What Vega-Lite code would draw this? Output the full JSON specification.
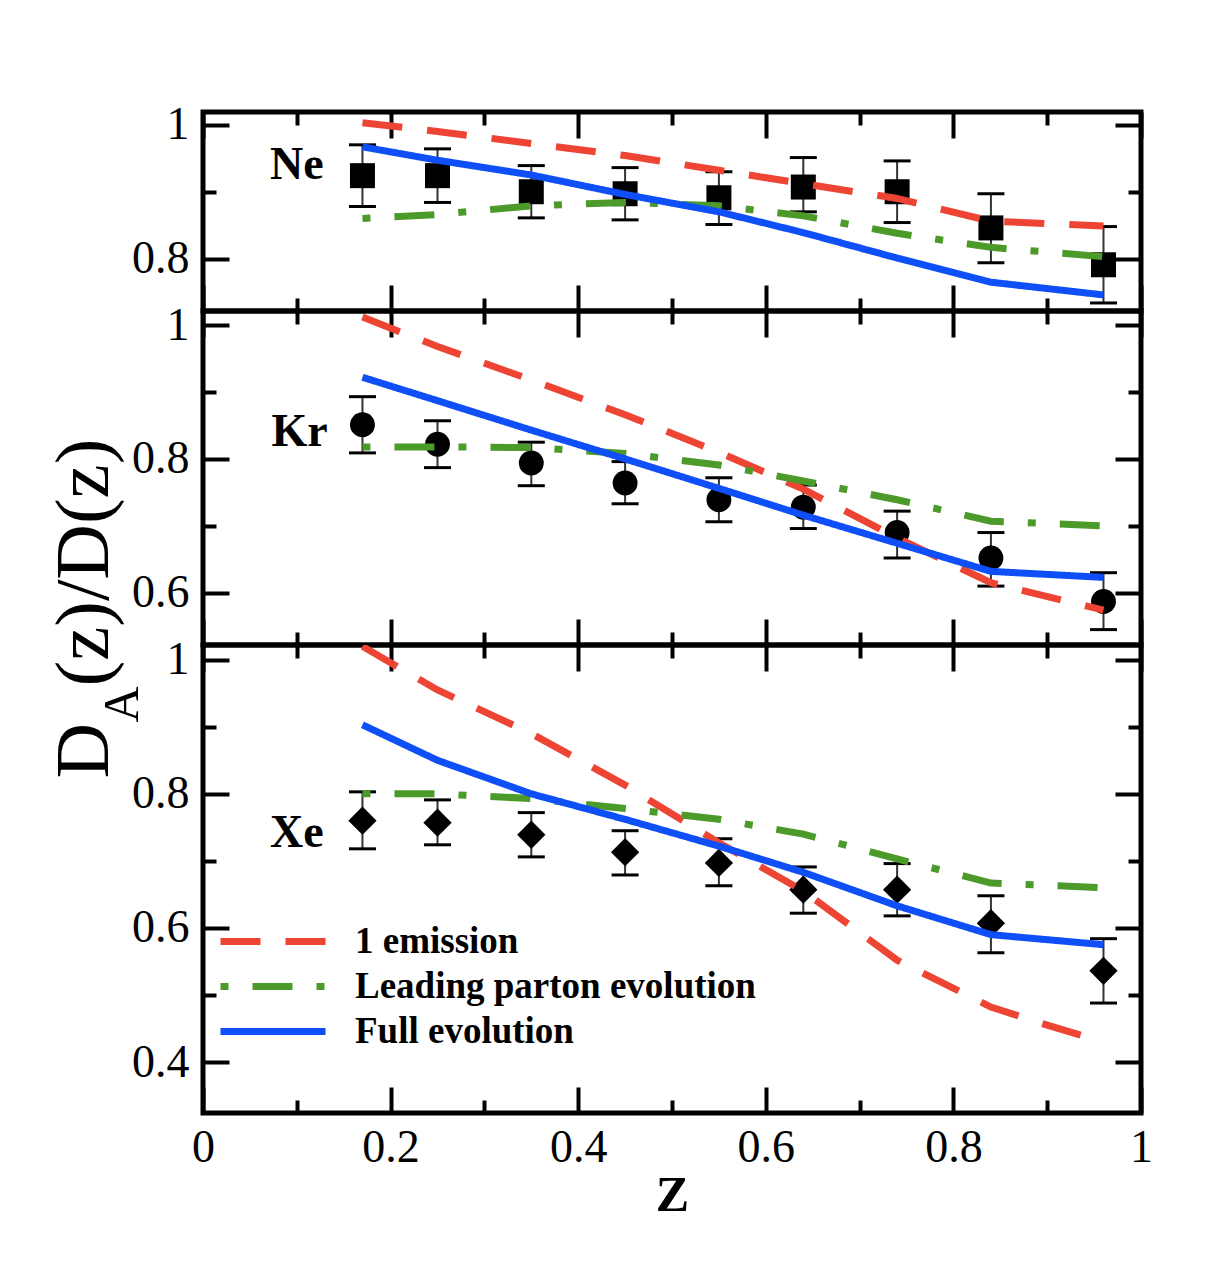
{
  "$schema": "https://vega.github.io/schema/vega-lite/v6.json",
  "background": "white",
  "padding": {"left": 42, "top": 99, "right": 10, "bottom": 10},
  "config": {
    "view": {"stroke": "black", "strokeWidth": 5},
    "font": "Liberation Serif",
    "axis": {
      "grid": false, "domain": false, "tickColor": "black", "tickWidth": 4,
      "labelFont": "Liberation Serif", "labelFontSize": 46, "labelColor": "black",
      "labelFlush": false, "labelOverlap": false, "labelBound": false,
      "titleFont": "Liberation Serif", "titleColor": "black", "titleFontWeight": "normal"
    }
  },
  "datasets": {
    "points": [
      {"panel": "Ne", "z": 0.17, "r": 0.924, "lo": 0.878, "hi": 0.970},
      {"panel": "Ne", "z": 0.25, "r": 0.924, "lo": 0.884, "hi": 0.964},
      {"panel": "Ne", "z": 0.35, "r": 0.900, "lo": 0.861, "hi": 0.939},
      {"panel": "Ne", "z": 0.45, "r": 0.897, "lo": 0.858, "hi": 0.936},
      {"panel": "Ne", "z": 0.55, "r": 0.891, "lo": 0.851, "hi": 0.930},
      {"panel": "Ne", "z": 0.64, "r": 0.907, "lo": 0.870, "hi": 0.951},
      {"panel": "Ne", "z": 0.74, "r": 0.900, "lo": 0.854, "hi": 0.946},
      {"panel": "Ne", "z": 0.84, "r": 0.846, "lo": 0.794, "hi": 0.897},
      {"panel": "Ne", "z": 0.96, "r": 0.791, "lo": 0.734, "hi": 0.848},
      {"panel": "Kr", "z": 0.17, "r": 0.851, "lo": 0.809, "hi": 0.893},
      {"panel": "Kr", "z": 0.25, "r": 0.822, "lo": 0.787, "hi": 0.857},
      {"panel": "Kr", "z": 0.35, "r": 0.794, "lo": 0.760, "hi": 0.825},
      {"panel": "Kr", "z": 0.45, "r": 0.764, "lo": 0.733, "hi": 0.796},
      {"panel": "Kr", "z": 0.55, "r": 0.739, "lo": 0.706, "hi": 0.772},
      {"panel": "Kr", "z": 0.64, "r": 0.728, "lo": 0.696, "hi": 0.761},
      {"panel": "Kr", "z": 0.74, "r": 0.690, "lo": 0.652, "hi": 0.722},
      {"panel": "Kr", "z": 0.84, "r": 0.652, "lo": 0.610, "hi": 0.690},
      {"panel": "Kr", "z": 0.96, "r": 0.587, "lo": 0.545, "hi": 0.630},
      {"panel": "Xe", "z": 0.17, "r": 0.760, "lo": 0.718, "hi": 0.803},
      {"panel": "Xe", "z": 0.25, "r": 0.757, "lo": 0.724, "hi": 0.791},
      {"panel": "Xe", "z": 0.35, "r": 0.739, "lo": 0.706, "hi": 0.772},
      {"panel": "Xe", "z": 0.45, "r": 0.713, "lo": 0.679, "hi": 0.745},
      {"panel": "Xe", "z": 0.55, "r": 0.697, "lo": 0.663, "hi": 0.733},
      {"panel": "Xe", "z": 0.64, "r": 0.657, "lo": 0.622, "hi": 0.691},
      {"panel": "Xe", "z": 0.74, "r": 0.657, "lo": 0.618, "hi": 0.696},
      {"panel": "Xe", "z": 0.84, "r": 0.607, "lo": 0.563, "hi": 0.648},
      {"panel": "Xe", "z": 0.96, "r": 0.536, "lo": 0.488, "hi": 0.584}
    ],
    "curves": [
      {"panel": "Ne", "series": "1 emission", "z": 0.17, "r": 1.003},
      {"panel": "Ne", "series": "1 emission", "z": 0.25, "r": 0.990},
      {"panel": "Ne", "series": "1 emission", "z": 0.35, "r": 0.972},
      {"panel": "Ne", "series": "1 emission", "z": 0.45, "r": 0.954},
      {"panel": "Ne", "series": "1 emission", "z": 0.55, "r": 0.932},
      {"panel": "Ne", "series": "1 emission", "z": 0.64, "r": 0.912},
      {"panel": "Ne", "series": "1 emission", "z": 0.74, "r": 0.890},
      {"panel": "Ne", "series": "1 emission", "z": 0.84, "r": 0.856},
      {"panel": "Ne", "series": "1 emission", "z": 0.96, "r": 0.849},
      {"panel": "Ne", "series": "Leading parton evolution", "z": 0.17, "r": 0.860},
      {"panel": "Ne", "series": "Leading parton evolution", "z": 0.25, "r": 0.866},
      {"panel": "Ne", "series": "Leading parton evolution", "z": 0.35, "r": 0.879},
      {"panel": "Ne", "series": "Leading parton evolution", "z": 0.45, "r": 0.884},
      {"panel": "Ne", "series": "Leading parton evolution", "z": 0.55, "r": 0.879},
      {"panel": "Ne", "series": "Leading parton evolution", "z": 0.64, "r": 0.864},
      {"panel": "Ne", "series": "Leading parton evolution", "z": 0.74, "r": 0.838},
      {"panel": "Ne", "series": "Leading parton evolution", "z": 0.84, "r": 0.817},
      {"panel": "Ne", "series": "Leading parton evolution", "z": 0.96, "r": 0.803},
      {"panel": "Ne", "series": "Full evolution", "z": 0.17, "r": 0.967},
      {"panel": "Ne", "series": "Full evolution", "z": 0.25, "r": 0.947},
      {"panel": "Ne", "series": "Full evolution", "z": 0.35, "r": 0.925},
      {"panel": "Ne", "series": "Full evolution", "z": 0.45, "r": 0.896},
      {"panel": "Ne", "series": "Full evolution", "z": 0.55, "r": 0.870},
      {"panel": "Ne", "series": "Full evolution", "z": 0.64, "r": 0.839},
      {"panel": "Ne", "series": "Full evolution", "z": 0.74, "r": 0.801},
      {"panel": "Ne", "series": "Full evolution", "z": 0.84, "r": 0.765},
      {"panel": "Ne", "series": "Full evolution", "z": 0.96, "r": 0.746},
      {"panel": "Kr", "series": "1 emission", "z": 0.17, "r": 1.012},
      {"panel": "Kr", "series": "1 emission", "z": 0.25, "r": 0.968},
      {"panel": "Kr", "series": "1 emission", "z": 0.35, "r": 0.918},
      {"panel": "Kr", "series": "1 emission", "z": 0.45, "r": 0.866},
      {"panel": "Kr", "series": "1 emission", "z": 0.55, "r": 0.810},
      {"panel": "Kr", "series": "1 emission", "z": 0.64, "r": 0.755},
      {"panel": "Kr", "series": "1 emission", "z": 0.74, "r": 0.682},
      {"panel": "Kr", "series": "1 emission", "z": 0.84, "r": 0.615},
      {"panel": "Kr", "series": "1 emission", "z": 0.96, "r": 0.574},
      {"panel": "Kr", "series": "Leading parton evolution", "z": 0.17, "r": 0.818},
      {"panel": "Kr", "series": "Leading parton evolution", "z": 0.25, "r": 0.818},
      {"panel": "Kr", "series": "Leading parton evolution", "z": 0.35, "r": 0.817},
      {"panel": "Kr", "series": "Leading parton evolution", "z": 0.45, "r": 0.808},
      {"panel": "Kr", "series": "Leading parton evolution", "z": 0.55, "r": 0.791},
      {"panel": "Kr", "series": "Leading parton evolution", "z": 0.64, "r": 0.767},
      {"panel": "Kr", "series": "Leading parton evolution", "z": 0.74, "r": 0.739},
      {"panel": "Kr", "series": "Leading parton evolution", "z": 0.84, "r": 0.707},
      {"panel": "Kr", "series": "Leading parton evolution", "z": 0.96, "r": 0.700},
      {"panel": "Kr", "series": "Full evolution", "z": 0.17, "r": 0.922},
      {"panel": "Kr", "series": "Full evolution", "z": 0.25, "r": 0.887},
      {"panel": "Kr", "series": "Full evolution", "z": 0.35, "r": 0.843},
      {"panel": "Kr", "series": "Full evolution", "z": 0.45, "r": 0.800},
      {"panel": "Kr", "series": "Full evolution", "z": 0.55, "r": 0.756},
      {"panel": "Kr", "series": "Full evolution", "z": 0.64, "r": 0.716},
      {"panel": "Kr", "series": "Full evolution", "z": 0.74, "r": 0.674},
      {"panel": "Kr", "series": "Full evolution", "z": 0.84, "r": 0.632},
      {"panel": "Kr", "series": "Full evolution", "z": 0.96, "r": 0.623},
      {"panel": "Xe", "series": "1 emission", "z": 0.17, "r": 1.020},
      {"panel": "Xe", "series": "1 emission", "z": 0.25, "r": 0.955},
      {"panel": "Xe", "series": "1 emission", "z": 0.35, "r": 0.890},
      {"panel": "Xe", "series": "1 emission", "z": 0.45, "r": 0.813},
      {"panel": "Xe", "series": "1 emission", "z": 0.55, "r": 0.727},
      {"panel": "Xe", "series": "1 emission", "z": 0.64, "r": 0.655},
      {"panel": "Xe", "series": "1 emission", "z": 0.74, "r": 0.552},
      {"panel": "Xe", "series": "1 emission", "z": 0.84, "r": 0.482},
      {"panel": "Xe", "series": "1 emission", "z": 0.90, "r": 0.455},
      {"panel": "Xe", "series": "1 emission", "z": 0.96, "r": 0.430},
      {"panel": "Xe", "series": "Leading parton evolution", "z": 0.17, "r": 0.800},
      {"panel": "Xe", "series": "Leading parton evolution", "z": 0.25, "r": 0.800},
      {"panel": "Xe", "series": "Leading parton evolution", "z": 0.35, "r": 0.793},
      {"panel": "Xe", "series": "Leading parton evolution", "z": 0.45, "r": 0.778},
      {"panel": "Xe", "series": "Leading parton evolution", "z": 0.55, "r": 0.762},
      {"panel": "Xe", "series": "Leading parton evolution", "z": 0.64, "r": 0.740},
      {"panel": "Xe", "series": "Leading parton evolution", "z": 0.74, "r": 0.703},
      {"panel": "Xe", "series": "Leading parton evolution", "z": 0.84, "r": 0.667},
      {"panel": "Xe", "series": "Leading parton evolution", "z": 0.96, "r": 0.660},
      {"panel": "Xe", "series": "Full evolution", "z": 0.17, "r": 0.903},
      {"panel": "Xe", "series": "Full evolution", "z": 0.25, "r": 0.850},
      {"panel": "Xe", "series": "Full evolution", "z": 0.35, "r": 0.800},
      {"panel": "Xe", "series": "Full evolution", "z": 0.45, "r": 0.762},
      {"panel": "Xe", "series": "Full evolution", "z": 0.55, "r": 0.722},
      {"panel": "Xe", "series": "Full evolution", "z": 0.64, "r": 0.683},
      {"panel": "Xe", "series": "Full evolution", "z": 0.74, "r": 0.633},
      {"panel": "Xe", "series": "Full evolution", "z": 0.84, "r": 0.590},
      {"panel": "Xe", "series": "Full evolution", "z": 0.96, "r": 0.575}
    ],
    "labels": [
      {"panel": "Ne", "label": "Ne", "z": 0.10, "r": 0.94},
      {"panel": "Kr", "label": "Kr", "z": 0.103, "r": 0.84},
      {"panel": "Xe", "label": "Xe", "z": 0.10, "r": 0.742}
    ]
  },
  "bounds": "flush",
  "spacing": 0,
  "resolve": {"scale": {"x": "independent", "y": "independent", "color": "independent", "strokeDash": "independent"}},
  "vconcat": [
    {
      "width": 938, "height": 199,
      "resolve": {"axis": {"x": "independent", "y": "independent"}},
      "layer": [
        {
          "data": {"name": "points"},
          "transform": [{"filter": "datum.panel == 'Ne'"}],
          "mark": {"type": "rule", "color": "#333333", "strokeWidth": 2},
          "encoding": {
            "x": {"field": "z", "type": "quantitative", "scale": {"domain": [0, 1], "nice": false, "zero": false},
                  "axis": {"orient": "bottom", "values": [0, 0.1, 0.2, 0.3, 0.4, 0.5, 0.6, 0.7, 0.8, 0.9, 1], "tickSize": {"condition": {"test": "round(datum.value*10)%2==0", "value": -26}, "value": -13}, "labels": false, "title": null}},
            "y": {"field": "lo", "type": "quantitative", "scale": {"domain": [0.722, 1.019], "nice": false, "zero": false},
                  "axis": {"orient": "left", "values": [0.8, 0.9, 1], "tickSize": {"condition": {"test": "round(datum.value*10)%2==0", "value": -26}, "value": -13}, "labelPadding": 40, "labelExpr": "round(datum.value*10)%2==0 ? ''+datum.value : ''", "title": null}},
            "y2": {"field": "hi"}
          }
        },
        {
          "data": {"name": "points"},
          "transform": [{"filter": "datum.panel == 'Ne'"}],
          "mark": {"type": "tick", "orient": "horizontal", "size": 27, "thickness": 3, "color": "black", "opacity": 1},
          "encoding": {
            "x": {"field": "z", "type": "quantitative", "scale": {"domain": [0, 1], "nice": false, "zero": false},
                  "axis": {"orient": "top", "values": [0, 0.1, 0.2, 0.3, 0.4, 0.5, 0.6, 0.7, 0.8, 0.9, 1], "tickSize": {"condition": {"test": "round(datum.value*10)%2==0", "value": -26}, "value": -13}, "labels": false, "title": null}},
            "y": {"field": "lo", "type": "quantitative", "scale": {"domain": [0.722, 1.019], "nice": false, "zero": false},
                  "axis": {"orient": "right", "values": [0.8, 0.9, 1], "tickSize": {"condition": {"test": "round(datum.value*10)%2==0", "value": -26}, "value": -13}, "labels": false, "title": null}}
          }
        },
        {
          "data": {"name": "points"},
          "transform": [{"filter": "datum.panel == 'Ne'"}],
          "mark": {"type": "tick", "orient": "horizontal", "size": 27, "thickness": 3, "color": "black", "opacity": 1},
          "encoding": {
            "x": {"field": "z", "type": "quantitative", "axis": null},
            "y": {"field": "hi", "type": "quantitative", "axis": null}
          }
        },
        {
          "data": {"name": "points"},
          "transform": [{"filter": "datum.panel == 'Ne'"}],
          "mark": {"type": "point", "shape": "square", "filled": true, "color": "black", "opacity": 1, "size": 625},
          "encoding": {
            "x": {"field": "z", "type": "quantitative", "axis": null},
            "y": {"field": "r", "type": "quantitative", "axis": null}
          }
        },
        {
          "data": {"name": "curves"},
          "transform": [{"filter": "datum.panel == 'Ne'"}],
          "mark": {"type": "line", "strokeWidth": 7, "clip": true},
          "encoding": {
            "x": {"field": "z", "type": "quantitative", "axis": null},
            "y": {"field": "r", "type": "quantitative", "axis": null},
            "color": {"field": "series", "type": "nominal", "legend": null,
                      "scale": {"domain": ["1 emission", "Leading parton evolution", "Full evolution"], "range": ["#ee4433", "#4c9a2a", "#0f4ff7"]}},
            "strokeDash": {"field": "series", "type": "nominal", "legend": null,
                      "scale": {"domain": ["1 emission", "Leading parton evolution", "Full evolution"], "range": [[40, 25], [8, 24, 40, 24], [1, 0]]}}
          }
        },
        {
          "data": {"name": "labels"},
          "transform": [{"filter": "datum.panel == 'Ne'"}],
          "mark": {"type": "text", "fontSize": 46, "fontWeight": "bold", "font": "Liberation Serif", "color": "black", "align": "center", "baseline": "middle"},
          "encoding": {
            "x": {"field": "z", "type": "quantitative", "axis": null},
            "y": {"field": "r", "type": "quantitative", "axis": null},
            "text": {"field": "label"}
          }
        }
      ]
    },
    {
      "width": 938, "height": 334,
      "resolve": {"axis": {"x": "independent", "y": "independent"}},
      "layer": [
        {
          "data": {"name": "points"},
          "transform": [{"filter": "datum.panel == 'Kr'"}],
          "mark": {"type": "rule", "color": "#333333", "strokeWidth": 2},
          "encoding": {
            "x": {"field": "z", "type": "quantitative", "scale": {"domain": [0, 1], "nice": false, "zero": false},
                  "axis": {"orient": "bottom", "values": [0, 0.1, 0.2, 0.3, 0.4, 0.5, 0.6, 0.7, 0.8, 0.9, 1], "tickSize": {"condition": {"test": "round(datum.value*10)%2==0", "value": -26}, "value": -13}, "labels": false, "title": null}},
            "y": {"field": "lo", "type": "quantitative", "scale": {"domain": [0.522, 1.021], "nice": false, "zero": false},
                  "axis": {"orient": "left", "values": [0.6, 0.7, 0.8, 0.9, 1], "tickSize": {"condition": {"test": "round(datum.value*10)%2==0", "value": -26}, "value": -13}, "labelPadding": 40, "labelExpr": "round(datum.value*10)%2==0 ? ''+datum.value : ''",
                           "title": "(z)/D(z)", "titleFontSize": 77, "titleAngle": 270, "titleAlign": "left", "titleBaseline": "alphabetic", "titleX": -96, "titleY": 375}},
            "y2": {"field": "hi"}
          }
        },
        {
          "data": {"name": "points"},
          "transform": [{"filter": "datum.panel == 'Kr'"}],
          "mark": {"type": "tick", "orient": "horizontal", "size": 27, "thickness": 3, "color": "black", "opacity": 1},
          "encoding": {
            "x": {"field": "z", "type": "quantitative", "scale": {"domain": [0, 1], "nice": false, "zero": false},
                  "axis": {"orient": "top", "values": [0, 0.1, 0.2, 0.3, 0.4, 0.5, 0.6, 0.7, 0.8, 0.9, 1], "tickSize": {"condition": {"test": "round(datum.value*10)%2==0", "value": -26}, "value": -13}, "labels": false, "title": null}},
            "y": {"field": "lo", "type": "quantitative", "scale": {"domain": [0.522, 1.021], "nice": false, "zero": false},
                  "axis": {"orient": "right", "values": [0.6, 0.7, 0.8, 0.9, 1], "tickSize": {"condition": {"test": "round(datum.value*10)%2==0", "value": -26}, "value": -13}, "labels": false, "title": null}}
          }
        },
        {
          "data": {"name": "points"},
          "transform": [{"filter": "datum.panel == 'Kr'"}],
          "mark": {"type": "tick", "orient": "horizontal", "size": 27, "thickness": 3, "color": "black", "opacity": 1},
          "encoding": {
            "x": {"field": "z", "type": "quantitative", "axis": null},
            "y": {"field": "hi", "type": "quantitative", "axis": null}
          }
        },
        {
          "data": {"name": "points"},
          "transform": [{"filter": "datum.panel == 'Kr'"}],
          "mark": {"type": "point", "shape": "circle", "filled": true, "color": "black", "opacity": 1, "size": 620},
          "encoding": {
            "x": {"field": "z", "type": "quantitative", "axis": null},
            "y": {"field": "r", "type": "quantitative", "axis": null}
          }
        },
        {
          "data": {"name": "curves"},
          "transform": [{"filter": "datum.panel == 'Kr'"}],
          "mark": {"type": "line", "strokeWidth": 7, "clip": true},
          "encoding": {
            "x": {"field": "z", "type": "quantitative", "axis": null},
            "y": {"field": "r", "type": "quantitative", "axis": null},
            "color": {"field": "series", "type": "nominal", "legend": null,
                      "scale": {"domain": ["1 emission", "Leading parton evolution", "Full evolution"], "range": ["#ee4433", "#4c9a2a", "#0f4ff7"]}},
            "strokeDash": {"field": "series", "type": "nominal", "legend": null,
                      "scale": {"domain": ["1 emission", "Leading parton evolution", "Full evolution"], "range": [[40, 25], [8, 24, 40, 24], [1, 0]]}}
          }
        },
        {
          "data": {"name": "labels"},
          "transform": [{"filter": "datum.panel == 'Kr'"}],
          "mark": {"type": "text", "fontSize": 46, "fontWeight": "bold", "font": "Liberation Serif", "color": "black", "align": "center", "baseline": "middle"},
          "encoding": {
            "x": {"field": "z", "type": "quantitative", "axis": null},
            "y": {"field": "r", "type": "quantitative", "axis": null},
            "text": {"field": "label"}
          }
        }
      ]
    },
    {
      "width": 938, "height": 468,
      "resolve": {"axis": {"x": "independent", "y": "independent"}},
      "layer": [
        {
          "data": {"name": "points"},
          "transform": [{"filter": "datum.panel == 'Xe'"}],
          "mark": {"type": "rule", "color": "#333333", "strokeWidth": 2},
          "encoding": {
            "x": {"field": "z", "type": "quantitative", "scale": {"domain": [0, 1], "nice": false, "zero": false},
                  "axis": {"orient": "bottom", "values": [0, 0.1, 0.2, 0.3, 0.4, 0.5, 0.6, 0.7, 0.8, 0.9, 1], "tickSize": {"condition": {"test": "round(datum.value*10)%2==0", "value": -26}, "value": -13}, "labelPadding": 38, "labelExpr": "round(datum.value*10)%2==0 ? ''+datum.value : ''",
                           "title": "Z", "titleFontSize": 50, "titleFontWeight": "bold", "titleAlign": "center", "titleBaseline": "alphabetic", "titleX": 469, "titleY": 97}},
            "y": {"field": "lo", "type": "quantitative", "scale": {"domain": [0.324, 1.022], "nice": false, "zero": false},
                  "axis": {"orient": "left", "values": [0.4, 0.5, 0.6, 0.7, 0.8, 0.9, 1], "tickSize": {"condition": {"test": "round(datum.value*10)%2==0", "value": -26}, "value": -13}, "labelPadding": 40, "labelExpr": "round(datum.value*10)%2==0 ? ''+datum.value : ''",
                           "title": "D", "titleFontSize": 77, "titleAngle": 270, "titleAlign": "left", "titleBaseline": "alphabetic", "titleX": -96, "titleY": 133}},
            "y2": {"field": "hi"}
          }
        },
        {
          "data": {"name": "points"},
          "transform": [{"filter": "datum.panel == 'Xe'"}],
          "mark": {"type": "tick", "orient": "horizontal", "size": 27, "thickness": 3, "color": "black", "opacity": 1},
          "encoding": {
            "x": {"field": "z", "type": "quantitative", "scale": {"domain": [0, 1], "nice": false, "zero": false},
                  "axis": {"orient": "top", "values": [0, 0.1, 0.2, 0.3, 0.4, 0.5, 0.6, 0.7, 0.8, 0.9, 1], "tickSize": {"condition": {"test": "round(datum.value*10)%2==0", "value": -26}, "value": -13}, "labels": false, "title": null}},
            "y": {"field": "lo", "type": "quantitative", "scale": {"domain": [0.324, 1.022], "nice": false, "zero": false},
                  "axis": {"orient": "right", "values": [0.4, 0.5, 0.6, 0.7, 0.8, 0.9, 1], "tickSize": {"condition": {"test": "round(datum.value*10)%2==0", "value": -26}, "value": -13}, "labels": false,
                           "title": "A", "titleFontSize": 50, "titleAngle": 270, "titleAlign": "left", "titleBaseline": "alphabetic", "titleX": -1004, "titleY": 77}}
          }
        },
        {
          "data": {"name": "points"},
          "transform": [{"filter": "datum.panel == 'Xe'"}],
          "mark": {"type": "tick", "orient": "horizontal", "size": 27, "thickness": 3, "color": "black", "opacity": 1},
          "encoding": {
            "x": {"field": "z", "type": "quantitative", "axis": null},
            "y": {"field": "hi", "type": "quantitative", "axis": null}
          }
        },
        {
          "data": {"name": "points"},
          "transform": [{"filter": "datum.panel == 'Xe'"}],
          "mark": {"type": "point", "shape": "diamond", "filled": true, "color": "black", "opacity": 1, "size": 800},
          "encoding": {
            "x": {"field": "z", "type": "quantitative", "axis": null},
            "y": {"field": "r", "type": "quantitative", "axis": null}
          }
        },
        {
          "data": {"name": "curves"},
          "transform": [{"filter": "datum.panel == 'Xe'"}],
          "mark": {"type": "line", "strokeWidth": 7, "clip": true},
          "encoding": {
            "x": {"field": "z", "type": "quantitative", "axis": null},
            "y": {"field": "r", "type": "quantitative", "axis": null},
            "color": {"field": "series", "type": "nominal",
                      "scale": {"domain": ["1 emission", "Leading parton evolution", "Full evolution"], "range": ["#ee4433", "#4c9a2a", "#0f4ff7"]},
                      "legend": {"orient": "none", "legendX": 14, "legendY": 278, "title": null, "symbolType": "stroke", "symbolSize": 11025, "symbolStrokeWidth": 7, "clipHeight": 37, "labelFontSize": 37, "labelFontWeight": "bold", "labelFont": "Liberation Serif", "labelColor": "black", "labelOffset": 26, "rowPadding": 7, "padding": 0, "labelLimit": 0}},
            "strokeDash": {"field": "series", "type": "nominal",
                      "scale": {"domain": ["1 emission", "Leading parton evolution", "Full evolution"], "range": [[40, 25], [8, 24, 40, 24], [1, 0]]},
                      "legend": {"orient": "none", "legendX": 14, "legendY": 278, "title": null, "symbolType": "stroke", "symbolSize": 11025, "symbolStrokeWidth": 7, "clipHeight": 37, "labelFontSize": 37, "labelFontWeight": "bold", "labelFont": "Liberation Serif", "labelColor": "black", "labelOffset": 26, "rowPadding": 7, "padding": 0, "labelLimit": 0}}
          }
        },
        {
          "data": {"name": "labels"},
          "transform": [{"filter": "datum.panel == 'Xe'"}],
          "mark": {"type": "text", "fontSize": 46, "fontWeight": "bold", "font": "Liberation Serif", "color": "black", "align": "center", "baseline": "middle"},
          "encoding": {
            "x": {"field": "z", "type": "quantitative", "axis": null},
            "y": {"field": "r", "type": "quantitative", "axis": null},
            "text": {"field": "label"}
          }
        }
      ]
    }
  ]
}
